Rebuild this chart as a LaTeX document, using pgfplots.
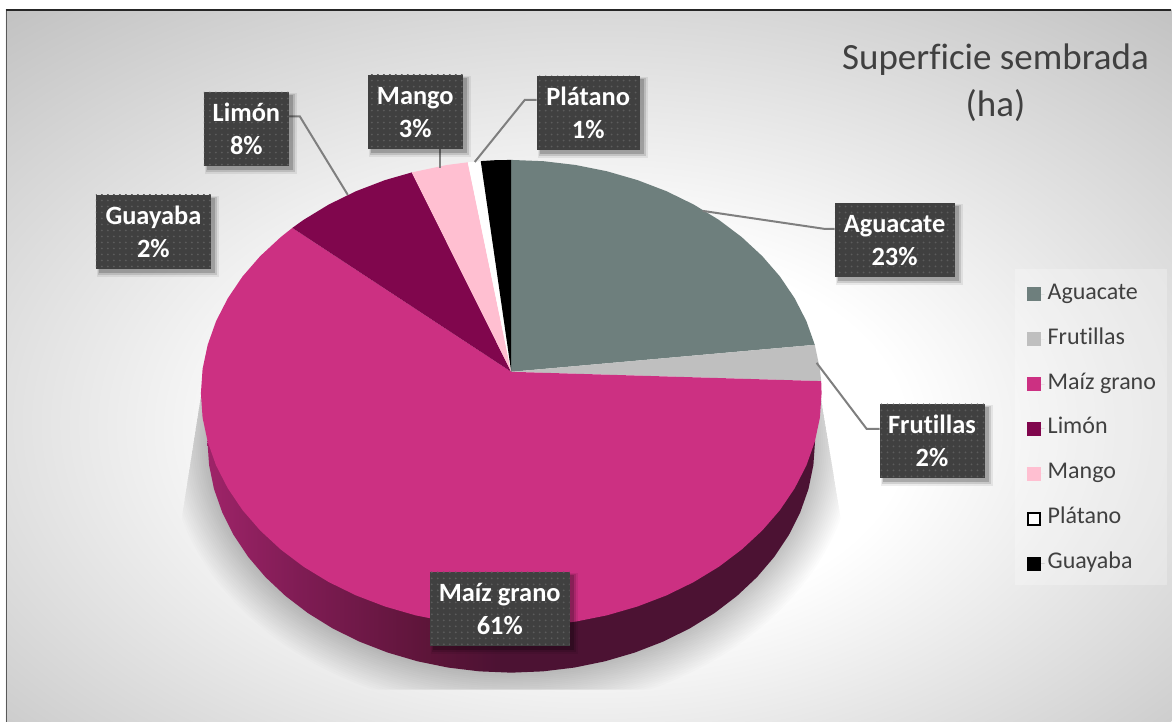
\documentclass[border=0pt]{standalone}
\usepackage{fontspec}
\setmainfont[RawFeature={-liga;-clig;-dlig}]{Carlito}
\usepackage{pgfplots}
\pgfplotsset{compat=1.18}
\usetikzlibrary{patterns.meta}
\definecolor{cAgua}{HTML}{6E7F7D}
\definecolor{cFrut}{HTML}{BFBFBF}
\definecolor{cMaiz}{HTML}{CC3082}
\definecolor{cLimon}{HTML}{80064D}
\definecolor{cMango}{HTML}{FFBFD1}
\definecolor{cTxt}{HTML}{404040}
\definecolor{cDot}{HTML}{5C5C5C}
\definecolor{cLead}{HTML}{7F7F7F}
\pgfdeclareradialshading{bgshade}{\pgfpoint{.3bp}{-3.75bp}}{rgb(0bp)=(1,1,1); rgb(8.5bp)=(1,1,1); rgb(25bp)=(.75,.75,.75); rgb(50bp)=(.75,.75,.75)}
\pgfdeclarehorizontalshading{wallshade}{100bp}{rgb(0bp)=(.62,.14,.41); rgb(25bp)=(.62,.14,.41); rgb(32.5bp)=(.50,.11,.33); rgb(43.5bp)=(.36,.08,.22); rgb(49bp)=(.30,.07,.20); rgb(100bp)=(.30,.07,.20)}
\newcommand{\lbox}[7]{%
  \fill[black,opacity=.07] (axis cs:#1+1,#2+1) rectangle (axis cs:#3+8,#4+8);
  \fill[black,opacity=.12] (axis cs:#1+2,#2+2) rectangle (axis cs:#3+6,#4+6);
  \fill[black,opacity=.18] (axis cs:#1+3,#2+3) rectangle (axis cs:#3+4,#4+4);
  \fill[cTxt] (axis cs:#1,#2) rectangle (axis cs:#3,#4);
  \fill[pattern={Dots[distance=6pt,radius=1pt]},pattern color=cDot] (axis cs:#1,#2) rectangle (axis cs:#3,#4);
  \node[anchor=base,text=white,font=\fontsize{#7}{#7}\selectfont\bfseries,inner sep=0pt] at (axis cs:{(#1+#3)/2},#2+29.5) {#5};
  \node[anchor=base,text=white,font=\fontsize{#7}{#7}\selectfont\bfseries,inner sep=0pt] at (axis cs:{(#1+#3)/2},#2+62.5) {#6};
}
\begin{document}
\begin{tikzpicture}
\begin{axis}[
  scale only axis, width=1172pt, height=722pt,
  xmin=0, xmax=1172, ymin=0, ymax=722, y dir=reverse,
  hide axis, clip=false,
  legend cell align=left,
  legend image code/.code={\fill[#1] (0pt,-7pt) rectangle (14pt,7pt); \path (14pt,0pt) -- (18pt,0pt);},
  legend style={
    at={(axis cs:1027,272)}, anchor=north west, draw=none,
    fill=none, text=cTxt,
    font=\fontsize{24}{28}\selectfont,
    row sep=23pt, inner xsep=0pt, inner ysep=11pt,
    nodes={inner ysep=0pt, inner xsep=3pt, text height=16pt, text depth=6pt},
  },
]
% page and background
\fill[white] (axis cs:0,0) rectangle (axis cs:1172,722);
\begin{scope}
\clip (axis cs:6,10) rectangle (axis cs:1172,722);
\shade[shading=bgshade] (axis cs:-315,-184) rectangle (axis cs:1493,916);
\end{scope}
\draw[black!65,line width=1.2pt] (axis cs:6.5,722) -- (axis cs:6.5,10);
\draw[black!85,line width=1.2pt] (axis cs:6,10) -- (axis cs:1172,10);
% soft shadow under the pie
\begin{scope}
\clip (axis cs:202,390) -- (axis cs:180,530) -- (axis cs:180,690) -- (axis cs:843,690) -- (axis cs:843,530) -- (axis cs:820,390) -- cycle;
\pgfplotsinvokeforeach{0,2,4,6,8,10,12,14,16,18,20,22,24,26,28,30,32,34,36,38,40}{
  \fill[black,opacity=.012] (axis cs:511.5,441) ellipse [x radius=304+#1, y radius=232+#1];
}
\end{scope}
% legend panel
\fill[white,opacity=.25] (axis cs:1016,269) rectangle (axis cs:1168,585);
% side wall
\addplot[forget plot, shading=wallshade, draw=none] coordinates {
(207.5,441)(209.2,465.3)(214.1,489.2)(222.4,512.7)(233.8,535.4)(248.2,557)(265.6,577.4)(285.6,596.2)(308.1,613.4)(332.8,628.7)(359.5,641.9)(387.9,652.9)(417.6,661.6)(448.3,667.9)(479.7,671.7)(511.5,673)
(543.3,671.7)(574.7,667.9)(605.4,661.6)(635.1,652.9)(663.5,641.9)(690.2,628.7)(714.9,613.4)(737.4,596.2)(757.4,577.4)(774.8,557)(789.2,535.4)(800.6,512.7)(808.9,489.2)(813.8,465.3)(815.5,441)
} -- cycle;
% top surface wedges
\addplot[fill=cAgua, draw=none] coordinates {
(511.5,372)(511.5,160)(543.9,161.3)(576.1,165.1)(607.4,171.4)(637.8,180.2)(666.8,191.3)(694.0,204.6)(719.3,220.0)(742.2,237.3)(762.7,256.3)(780.4,276.7)(795.1,298.5)(806.8,321.3)(815.2,345.0)
} -- cycle;
\addlegendentry{Aguacate}
\addplot[fill=cFrut, draw=none] coordinates {
(511.5,372)(815.2,345.0)(820.3,369.1)(821.6,381.3)
} -- cycle;
\addlegendentry{Frutillas}
\addplot[fill=cMaiz, draw=none] coordinates {
(511.5,372)(821.6,381.3)(822,393.5)(820.3,417.9)(815.2,442.0)(806.8,465.7)(795.1,488.5)(780.4,510.3)(762.7,530.7)(742.2,549.7)(719.3,567.0)(694.0,582.4)(666.8,595.7)(637.8,606.8)(607.4,615.6)(576.1,621.9)(543.9,625.7)(511.5,627)(479.1,625.7)(446.9,621.9)(415.6,615.6)(385.2,606.8)(356.2,595.7)(329.0,582.4)(303.7,567.0)(280.8,549.7)(260.3,530.7)(242.6,510.3)(227.9,488.5)(216.2,465.7)(207.8,442.0)(202.7,417.9)(201,393.5)(202.7,369.1)(207.8,345.0)(216.2,321.3)(227.9,298.5)(242.6,276.7)(260.3,256.3)(280.8,237.3)(292.5,228)
} -- cycle;
\addlegendentry{Maíz grano}
\addplot[fill=cLimon, draw=none] coordinates {
(511.5,372)(292.5,228)(303.7,220.0)(329.0,204.6)(356.2,191.3)(385.2,180.2)(412,172.5)
} -- cycle;
\addlegendentry{Limón}
\addplot[fill=cMango, draw=none] coordinates {
(511.5,372)(412,172.5)(446.9,165.1)(468,162.4)
} -- cycle;
\addlegendentry{Mango}
\addplot[fill=white, draw=none, legend image code/.code={\draw[black,line width=2pt,fill=white] (1pt,-6pt) rectangle (13pt,6pt); \path (14pt,0pt) -- (18pt,0pt);}] coordinates {
(511.5,372)(468,162.4)(481,161.2)
} -- cycle;
\addlegendentry{Plátano}
\addplot[fill=black, draw=none] coordinates {
(511.5,372)(481,161.2)(495,160.3)(511.5,160)
} -- cycle;
\addlegendentry{Guayaba}
% leader lines
\draw[cLead,line width=2pt] (axis cs:703,211) -- (axis cs:825,229) -- (axis cs:835,229);
\draw[cLead,line width=2pt] (axis cs:817,363) -- (axis cs:867,429) -- (axis cs:880,429);
\draw[cLead,line width=2pt] (axis cs:289,116.5) -- (axis cs:300,116.5) -- (axis cs:348,195);
\draw[cLead,line width=2pt] (axis cs:440,149) -- (axis cs:440,168);
\draw[cLead,line width=2pt] (axis cs:537,100) -- (axis cs:525,100) -- (axis cs:475,162);
% data labels
\lbox{835}{203}{955}{277}{Aguacate}{23\%}{26.4}
\lbox{880}{404}{985}{478}{Frutillas}{2\%}{26.4}
\lbox{430}{572}{570}{646}{Maíz grano}{61\%}{26.4}
\lbox{204}{92}{289}{166}{Limón}{8\%}{26.4}
\lbox{368}{75}{463}{149}{Mango}{3\%}{26.4}
\lbox{537}{76}{640}{150}{Plátano}{1\%}{26.4}
\lbox{96}{195}{211}{269}{Guayaba}{2\%}{26.4}
% title
\node[anchor=base,text=cTxt,font=\fontsize{37}{37}\selectfont,inner sep=0pt] at (axis cs:996,70) {Superficie sembrada};
\node[anchor=base,text=cTxt,font=\fontsize{37}{37}\selectfont,inner sep=0pt] at (axis cs:996,117) {(ha)};
\end{axis}
\end{tikzpicture}
\end{document}
